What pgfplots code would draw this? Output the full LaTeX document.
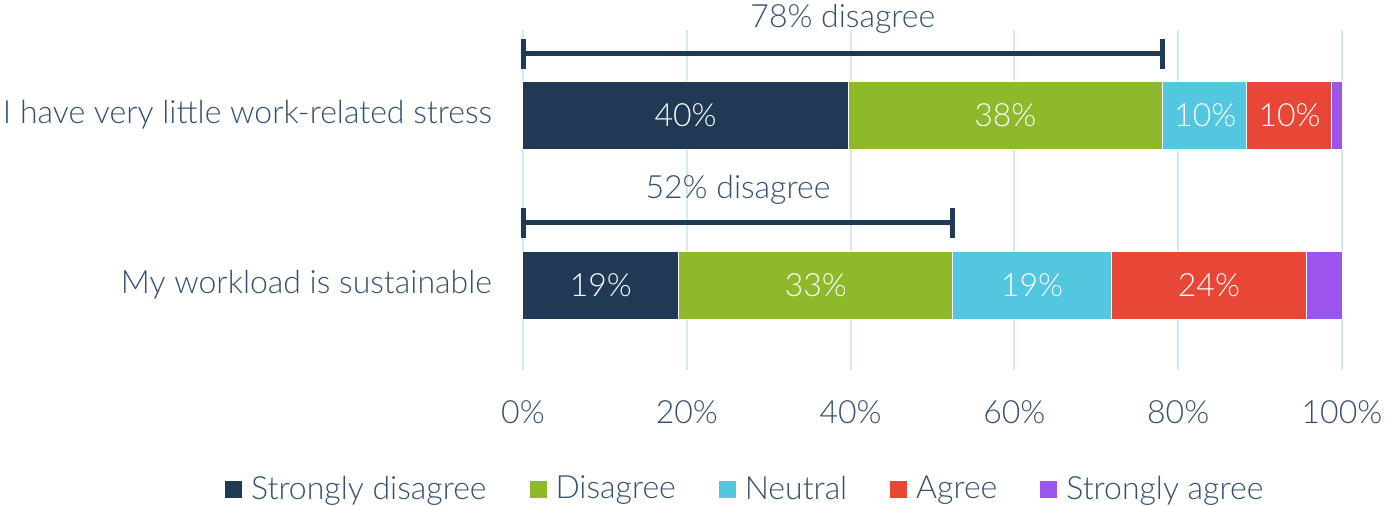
\documentclass[border=0pt]{standalone}
\usepackage{pgfplots}
\pgfplotsset{compat=1.18}
\usepackage{fontspec}
\setmainfont{Lato}[UprightFont=* Light]
\definecolor{navy}{HTML}{203A56}
\definecolor{cgreen}{HTML}{8DB92A}
\definecolor{ccyan}{HTML}{54C7E0}
\definecolor{cred}{HTML}{E84637}
\definecolor{cpurple}{HTML}{9B55EE}
\definecolor{txt}{HTML}{34506E}
\definecolor{gridc}{HTML}{D3EAF4}
\begin{document}
\begin{tikzpicture}[font=\fontsize{16pt}{19pt}\selectfont]
\begin{axis}[
  at={(0,0)}, anchor=south west,
  scale only axis, width=409.5pt, height=170pt,
  xbar stacked, bar width=34pt,
  xmin=0, xmax=100, ymin=-0.5, ymax=1.5,
  xtick={0,20,...,100},
  xticklabel={\pgfmathprintnumber{\tick}\%},
  /pgf/number format/assume math mode=true,
  ytick={0,1},
  yticklabels={My workload is sustainable, I have very little work-related stress},
  xmajorgrids, major grid style={gridc, line width=1pt},
  axis line style={draw=none}, tick style={draw=none},
  ticklabel style={text=txt},
  xticklabel style={yshift=-12pt},
  yticklabel style={xshift=-12pt},
  clip=false,
  legend columns=5,
  legend style={at={(0.272,-0.35)}, anchor=center, draw=none, fill=none,
    text=txt, inner sep=0pt,
    /tikz/every odd column/.append style={column sep=2pt},
    /tikz/every even column/.append style={column sep=19pt}},
  legend image code/.code={\fill[#1] (0pt,-4.5pt) rectangle (9pt,4.5pt);},
  legend cell align=left,
]
\addplot[fill=navy, draw=white, line width=0.5pt] coordinates {(19.0,0) (39.7,1)};
\addplot[fill=cgreen, draw=white, line width=0.5pt] coordinates {(33.5,0) (38.4,1)};
\addplot[fill=ccyan, draw=white, line width=0.5pt] coordinates {(19.3,0) (10.3,1)};
\addplot[fill=cred, draw=white, line width=0.5pt] coordinates {(23.9,0) (10.3,1)};
\addplot[fill=cpurple, draw=white, line width=0.5pt] coordinates {(4.3,0) (1.3,1)};
\legend{Strongly disagree, Disagree, Neutral, Agree, Strongly agree}
\end{axis}
\begin{axis}[
  at={(0,0)}, anchor=south west,
  scale only axis, width=409.5pt, height=170pt,
  xmin=0, xmax=100, ymin=-0.5, ymax=1.5,
  hide axis, clip=false,
]
\addplot[navy, line width=2.5pt] coordinates {(0,1.359) (78.1,1.359)};
\addplot[navy, line width=2.5pt] coordinates {(0,1.271) (0,1.447)};
\addplot[navy, line width=2.5pt] coordinates {(78.1,1.271) (78.1,1.447)};
\addplot[navy, line width=2.5pt] coordinates {(0,0.365) (52.5,0.365)};
\addplot[navy, line width=2.5pt] coordinates {(0,0.277) (0,0.453)};
\addplot[navy, line width=2.5pt] coordinates {(52.5,0.277) (52.5,0.453)};
\node[text=txt] at (axis cs:39.05,1.565) {78\% disagree};
\node[text=txt] at (axis cs:26.25,0.559) {52\% disagree};
\begin{scope}[every node/.style={text=white, font=\fontsize{16pt}{18pt}\selectfont}]
\node at (axis cs:19.85,1) {40\%};
\node at (axis cs:58.9,1) {38\%};
\node at (axis cs:83.3,1) {10\%};
\node at (axis cs:93.6,1) {10\%};
\node at (axis cs:9.5,0) {19\%};
\node at (axis cs:35.75,0) {33\%};
\node at (axis cs:62.15,0) {19\%};
\node at (axis cs:83.75,0) {24\%};
\end{scope}
\end{axis}
\pgfresetboundingbox
\useasboundingbox (-261.5pt,-67.5pt) rectangle (431.5pt,185pt);
\end{tikzpicture}
\end{document}
